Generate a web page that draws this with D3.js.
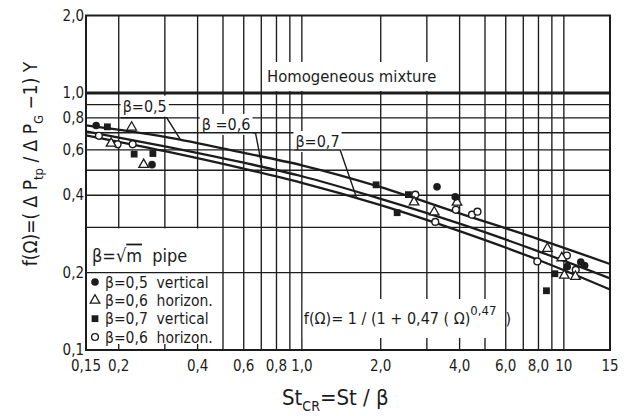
<!DOCTYPE html>
<html lang="en">
<head>
<meta charset="UTF-8">
<title>f(Omega) vs St_CR</title>
<style>
  body { margin: 0; background: #fff; }
  svg { display: block; }
  text { font-family: "DejaVu Sans Condensed", "Liberation Sans Narrow", "DejaVu Sans", sans-serif; fill: #1c1c1c; }
  .grid { stroke: #1c1c1c; stroke-width: 1.35; fill: none; }
</style>
</head>
<body>
<svg id="chart" width="632" height="416"></svg>
<script src="https://cdn.jsdelivr.net/npm/d3@7"></script>
<script>
  const ink = "#1c1c1c";

  // axis ticks and grid
  const xTicks = [0.15, 0.2, 0.4, 0.6, 0.8, 1.0, 2.0, 4.0, 6.0, 8.0, 10, 15];
  const xTickLabels = ["0,15", "0,2", "0,4", "0,6", "0,8", "1,0", "2,0", "4,0", "6,0", "8,0", "10", "15"];
  const xGrid = [0.2, 0.3, 0.4, 0.5, 0.6, 0.7, 0.8, 0.9, 1, 2, 3, 4, 5, 6, 7, 8, 9, 10];
  const yTicks = [0.1, 0.2, 0.4, 0.6, 0.8, 1.0, 2.0];
  const yTickLabels = ["0,1", "0,2", "0,4", "0,6", "0,8", "1,0", "2,0"];
  const yGrid = [0.2, 0.3, 0.4, 0.5, 0.6, 0.7, 0.8, 0.9];

  // correlation curves
  const curveX = [0.15, 0.3, 0.6, 1.0, 2.0, 4.0, 8.0, 15];
  const curveB05 = [0.748, 0.675, 0.585, 0.523, 0.430, 0.340, 0.270, 0.216];
  const curveB06 = [0.709, 0.620, 0.535, 0.474, 0.387, 0.310, 0.242, 0.190];
  const curveB07 = [0.684, 0.593, 0.507, 0.447, 0.366, 0.290, 0.224, 0.172];

  // measured points
  const dotX = [0.164, 0.268, 3.28, 3.85, 10.3, 11.6, 12.0];
  const dotY = [0.747, 0.526, 0.431, 0.394, 0.211, 0.220, 0.213];
  const triX = [0.224, 0.187, 0.249, 2.68, 3.20, 3.91, 8.65, 9.82, 10.04, 11.07];
  const triY = [0.735, 0.636, 0.526, 0.376, 0.344, 0.375, 0.248, 0.228, 0.195, 0.193];
  const sqX = [0.181, 0.229, 0.270, 1.92, 2.31, 2.55, 9.24, 8.58];
  const sqY = [0.738, 0.578, 0.581, 0.439, 0.342, 0.402, 0.198, 0.170];
  const ringX = [0.168, 0.198, 0.226, 2.71, 3.23, 3.87, 4.46, 4.68, 7.92, 10.27, 11.1];
  const ringY = [0.681, 0.631, 0.631, 0.402, 0.315, 0.351, 0.336, 0.345, 0.221, 0.233, 0.205];

  const legendLabels = ["β=0,5  vertical", "β=0,6  horizon.", "β=0,7  vertical", "β=0,6  horizon."];
  const legendTypes = ["dot", "tri", "square", "ring"];

  const svg = d3.select("#chart");
  const x = d3.scaleLog().domain([0.15, 15]).range([86, 610]);
  const y = d3.scaleLog().domain([0.1, 2.0]).range([350, 15.5]);

  // grid
  const grid = svg.append("g");
  grid.selectAll(".vg").data(xGrid).enter().append("line")
    .attr("class", "grid")
    .attr("x1", d => x(d)).attr("x2", d => x(d))
    .attr("y1", y(2.0)).attr("y2", y(0.1));
  grid.selectAll(".hg").data(yGrid).enter().append("line")
    .attr("class", "grid")
    .attr("x1", x(0.15)).attr("x2", x(15))
    .attr("y1", d => y(d)).attr("y2", d => y(d));

  // text with a white patch behind it, which cuts the grid
  function boxedText(g, tx, ty, str, size, pad, anchor) {
    const t = g.append("text").attr("x", tx).attr("y", ty)
      .attr("font-size", size).attr("text-anchor", anchor || "start").text(str);
    const b = t.node().getBBox();
    g.insert("rect", "text")
      .attr("x", b.x - pad[0]).attr("y", b.y - pad[1])
      .attr("width", b.width + 2 * pad[0]).attr("height", b.height + 2 * pad[1])
      .attr("fill", "#fff");
    return t;
  }

  const notes = svg.append("g");

  // homogeneous mixture
  boxedText(notes, 267, 82, "Homogeneous mixture", 16.5, [3, 5], "start")
    .attr("font-family", "'DejaVu Sans', sans-serif").attr("fill", "#333");

  // legend panel
  notes.append("rect")
    .attr("x", x(0.15) + 1).attr("y", y(0.3) + 1)
    .attr("width", x(0.5) - x(0.15) - 2).attr("height", y(0.1) - y(0.3) - 7)
    .attr("fill", "#fff");
  notes.append("line").attr("class", "grid")
    .attr("x1", x(0.15)).attr("x2", x(0.5))
    .attr("y1", y(0.2)).attr("y2", y(0.2));

  const pipe = notes.append("text").attr("x", x(0.15) + 6).attr("y", y(0.2) - 11)
    .attr("font-size", 18).attr("xml:space", "preserve");
  pipe.append("tspan").text("β=√");
  pipe.append("tspan").style("text-decoration", "overline").text("m");
  pipe.append("tspan").text("  pipe");

  // formula panel
  const fx = x(1.0) + 2, fy = 324;
  const fbg = notes.append("rect").attr("fill", "#fff");
  const formula = notes.append("text").attr("x", fx).attr("y", fy).attr("font-size", 16)
    .attr("xml:space", "preserve");
  formula.append("tspan").text("f(Ω)= 1 / (1 + 0,47 ( Ω)");
  formula.append("tspan").attr("dy", -9).attr("font-size", 13).text("0,47");
  formula.append("tspan").attr("dy", 9).text("  )");
  const fb = formula.node().getBBox();
  fbg.attr("x", fb.x - 1).attr("y", fb.y - 4).attr("width", x(5.4) - fb.x)
    .attr("height", y(0.1) - 12 - (fb.y - 4));

  // frame and homogeneous line
  svg.append("rect")
    .attr("x", x(0.15)).attr("y", y(2.0))
    .attr("width", x(15) - x(0.15)).attr("height", y(0.1) - y(2.0))
    .attr("fill", "none").attr("stroke", ink).attr("stroke-width", 2);
  svg.append("line")
    .attr("x1", x(0.15)).attr("x2", x(15))
    .attr("y1", y(1.0)).attr("y2", y(1.0))
    .attr("stroke", ink).attr("stroke-width", 3);

  // beta labels with leader lines
  const betaLabels = [
    { text: "β=0,5", x0: 0.207, base: 0.83, lineY: 0.8, x1: 0.305, tipX: 0.345, tipY: curveB05 },
    { text: "β =0,6", x0: 0.415, base: 0.705, lineY: 0.7, x1: 0.665, tipX: 0.705, tipY: curveB06 },
    { text: "β=0,7", x0: 0.945, base: 0.605, lineY: 0.6, x1: 1.40, tipX: 1.62, tipY: curveB07 }
  ];
  const lineAt = d3.line().x(d => x(d[0])).y(d => y(d[1])).curve(d3.curveMonotoneX);
  betaLabels.forEach(b => {
    boxedText(notes, x(b.x0), y(b.base) - 2, b.text, 16, [2, 1], "start");
    // tip y taken from the curve table at the leader x
    const i = d3.bisectLeft(curveX, b.tipX);
    const t = (Math.log(b.tipX) - Math.log(curveX[i - 1])) / (Math.log(curveX[i]) - Math.log(curveX[i - 1]));
    const ty = Math.exp(Math.log(b.tipY[i - 1]) * (1 - t) + Math.log(b.tipY[i]) * t);
    svg.append("path")
      .attr("d", d3.line()([[x(b.x0) - 2, y(b.lineY)], [x(b.x1), y(b.lineY)], [x(b.tipX), y(ty)]]))
      .attr("fill", "none").attr("stroke", ink).attr("stroke-width", 1.4);
  });

  // curves
  [curveB05, curveB06, curveB07].forEach(c => {
    svg.append("path")
      .attr("d", lineAt(curveX.map((v, i) => [v, c[i]])))
      .attr("fill", "none").attr("stroke", ink).attr("stroke-width", 2.3);
  });

  // markers
  const tri = d3.symbol().type(d3.symbolTriangle).size(40);
  function marker(g, type, cx, cy) {
    if (type === "dot") {
      g.append("circle").attr("cx", cx).attr("cy", cy).attr("r", 3.8).attr("fill", ink);
    } else if (type === "ring") {
      g.append("circle").attr("cx", cx).attr("cy", cy).attr("r", 3.4)
        .attr("fill", "#fff").attr("stroke", ink).attr("stroke-width", 1.4);
    } else if (type === "square") {
      g.append("rect").attr("x", cx - 3.4).attr("y", cy - 3.4).attr("width", 6.8).attr("height", 6.8)
        .attr("fill", ink);
    } else {
      g.append("path").attr("d", tri()).attr("transform", `translate(${cx},${cy})`)
        .attr("fill", "#fff").attr("stroke", ink).attr("stroke-width", 1.3);
    }
  }
  const pts = svg.append("g");
  ringX.forEach((v, i) => marker(pts, "ring", x(v), y(ringY[i])));
  triX.forEach((v, i) => marker(pts, "tri", x(v), y(triY[i])));
  sqX.forEach((v, i) => marker(pts, "square", x(v), y(sqY[i])));
  dotX.forEach((v, i) => marker(pts, "dot", x(v), y(dotY[i])));

  // legend entries
  const legY = d3.scaleLinear().domain([0, 3]).range([282, 337]);
  legendTypes.forEach((tp, i) => {
    marker(notes, tp, x(0.15) + 9, legY(i));
    notes.append("text").attr("x", x(0.15) + 19).attr("y", legY(i) + 5.5)
      .attr("font-size", 15.5).attr("xml:space", "preserve").text(legendLabels[i]);
  });

  // tick labels
  svg.append("g").selectAll("text").data(xTicks).enter().append("text")
    .attr("x", d => x(d)).attr("y", 371)
    .attr("text-anchor", "middle").attr("font-size", 15)
    .text((d, i) => xTickLabels[i]);
  svg.append("g").selectAll("text").data(yTicks).enter().append("text")
    .attr("x", 84).attr("y", d => y(d) + 5)
    .attr("text-anchor", "end").attr("font-size", 15)
    .text((d, i) => yTickLabels[i]);

  // axis titles
  const xt = svg.append("text").attr("x", 282).attr("y", 405).attr("font-size", 22);
  xt.append("tspan").text("St");
  xt.append("tspan").attr("dy", 6).attr("font-size", 14).text("CR");
  xt.append("tspan").attr("dy", -6).text("=St / β");

  const yt = svg.append("text").attr("transform", "translate(37,164) rotate(-90)")
    .attr("text-anchor", "middle").attr("font-size", 19);
  yt.append("tspan").text("f(Ω)=( Δ P");
  yt.append("tspan").attr("dy", 6).attr("font-size", 13).text("tp");
  yt.append("tspan").attr("dy", -6).text(" / Δ P");
  yt.append("tspan").attr("dy", 6).attr("font-size", 13).text("G");
  yt.append("tspan").attr("dy", -6).text(" −1) Y");
</script>
</body>
</html>
